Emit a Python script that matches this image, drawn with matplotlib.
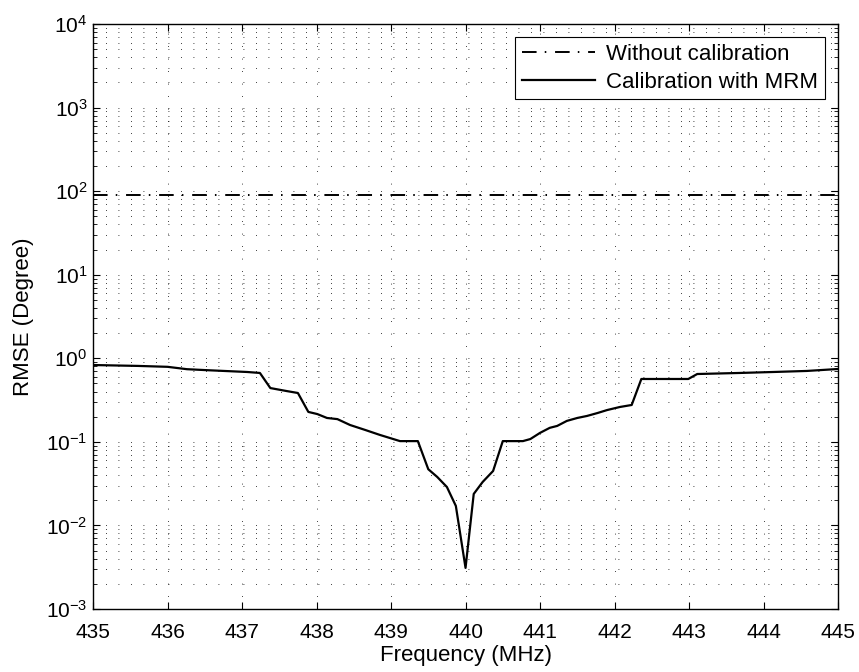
import numpy as np
import matplotlib
matplotlib.use('Agg')
import matplotlib.pyplot as plt
from matplotlib.ticker import LogLocator, FixedLocator, NullFormatter

plt.rcParams['font.family'] = ['Liberation Sans', 'DejaVu Sans']
plt.rcParams['mathtext.fontset'] = 'custom'
plt.rcParams['mathtext.rm'] = 'Liberation Sans'

# RMSE without calibration (constant)
freq_flat = [435, 445]
rmse_flat = [90, 90]

# RMSE after calibration with MRM
freq_mrm = [435.0, 435.6, 436.0, 436.26, 436.53, 437.07, 437.24, 437.38, 437.6,
            437.75, 437.89, 438.01, 438.14, 438.28, 438.45, 438.65, 438.85,
            439.12, 439.36, 439.5, 439.62, 439.75, 439.87, 440.0, 440.11,
            440.23, 440.37, 440.5, 440.77, 440.87, 441.0, 441.13, 441.23,
            441.36, 441.5, 441.63, 441.77, 441.9, 442.07, 442.23, 442.36,
            442.99, 443.11, 443.68, 444.13, 444.58, 445.0]
rmse_mrm = [0.83, 0.81, 0.79, 0.74, 0.72, 0.685, 0.667, 0.44, 0.405,
            0.384, 0.228, 0.215, 0.193, 0.187, 0.159, 0.139, 0.121,
            0.102, 0.102, 0.047, 0.038, 0.0288, 0.0171, 0.0031, 0.0238,
            0.0331, 0.0448, 0.102, 0.102, 0.108, 0.128, 0.147, 0.155,
            0.178, 0.193, 0.204, 0.221, 0.240, 0.261, 0.276, 0.565,
            0.565, 0.648, 0.667, 0.685, 0.705, 0.744]

xticks = np.arange(435, 446, 1)
fs = 15

fig = plt.figure(figsize=(8.59, 6.72), dpi=100)
ax = fig.add_axes([0.1083, 0.0938, 0.8673, 0.8705])

ax.semilogy(freq_flat, rmse_flat, 'k', lw=1.4, linestyle=(0, (7.5, 4.2, 0.8, 4.5)),
            label='Without calibration')
ax.semilogy(freq_mrm, rmse_mrm, 'k-', lw=1.6, label='Calibration with MRM')

ax.set_xlim(435, 445)
ax.set_ylim(1e-3, 1e4)
ax.xaxis.set_major_locator(FixedLocator(xticks))
ax.yaxis.set_major_locator(LogLocator(base=10, numticks=20))
ax.yaxis.set_minor_locator(LogLocator(base=10, subs=np.arange(2, 10), numticks=20))
ax.yaxis.set_minor_formatter(NullFormatter())

ax.tick_params(which='both', direction='in', top=True, right=True, labelsize=fs)
ax.tick_params(which='major', length=5, width=0.8)
ax.tick_params(which='minor', length=3, width=0.6)
ax.tick_params(axis='x', which='major', pad=10)
ax.tick_params(axis='y', which='major', pad=4)
for s in ax.spines.values():
    s.set_linewidth(1.0)

ax.grid(True, which='major', axis='both', color='k', lw=0.6, linestyle=(0, (1, 14)))
ax.grid(True, which='minor', axis='y', color='k', lw=0.6, linestyle=(0, (1, 14)))

ax.set_xlabel('Frequency (MHz)', fontsize=16, labelpad=2)
ax.set_ylabel('RMSE (Degree)', fontsize=16, labelpad=9)

leg = ax.legend(loc='upper right', fontsize=fs + 1, fancybox=False, framealpha=1,
                edgecolor='k', borderaxespad=0.6, handlelength=3.3,
                borderpad=0.3, labelspacing=0.3, handletextpad=0.5)
leg.get_frame().set_linewidth(0.8)

fig.savefig('out.png', dpi=100)
